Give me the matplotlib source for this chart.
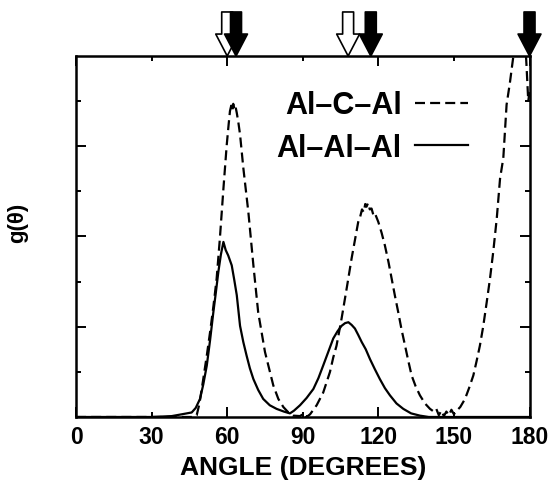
import numpy as np
import matplotlib
matplotlib.use("Agg")
import matplotlib.pyplot as plt

plt.rcParams['font.family'] = ['Liberation Sans', 'DejaVu Sans']
plt.rcParams['font.weight'] = 'bold'

# Al-C-Al bond angle distribution (dashed)
angle_alc = [0, 40, 46, 47.9, 49, 50.5, 52, 53.2, 54.5, 55.8, 57.1, 58.5, 59.8, 60.6,
             61.1, 61.6, 62.0, 62.4, 62.9, 63.3, 63.8, 64.4, 65.1, 66.4, 68.4, 70.4,
             72.3, 75.0, 78.3, 80.3, 82.3, 84.3, 86.2, 88.9, 90.5, 91.5, 92.9, 94.2,
             95.5, 96.8, 98.1, 99.4, 100.8, 102.1, 103.4, 105.4, 107.4, 109.4, 110.7,
             112.0, 112.8, 113.5, 114.2, 114.8, 115.3, 115.9, 116.6, 117.3, 118.0,
             118.6, 120.0, 121.3, 122.6, 124.0, 125.3, 126.6, 127.9, 129.2, 130.6,
             131.9, 133.2, 134.8, 136.5, 138.5, 140.5, 142, 143, 144, 145, 146, 147,
             148, 149, 150, 151.1, 152.5, 154.4, 156, 157.7, 159, 160.3, 161.6, 163.0,
             164.3, 165.6, 167, 168.3, 169.6, 170.9, 172.2, 173.5, 175, 176.5, 177.8,
             178.8, 179.5, 180]
g_alc = [0, 0, 0, 0.02, 0.15, 0.42, 0.7, 0.94, 1.22, 1.53, 1.98, 2.53, 3.01, 3.25,
         3.39, 3.45, 3.40, 3.47, 3.41, 3.44, 3.37, 3.27, 3.13, 2.76, 2.27, 1.68,
         1.16, 0.72, 0.35, 0.2, 0.11, 0.05, 0.015, 0.01, 0.04, 0.0, 0.03, 0.08,
         0.13, 0.2, 0.27, 0.38, 0.5, 0.66, 0.79, 1.09, 1.42, 1.76, 1.96,
         2.16, 2.22, 2.30, 2.27, 2.36, 2.33, 2.37, 2.30, 2.31, 2.24,
         2.26, 2.16, 2.04, 1.90, 1.72, 1.53, 1.34, 1.16, 0.97, 0.79,
         0.62, 0.46, 0.34, 0.24, 0.15, 0.09, 0.06, 0.09, 0.02, 0.07, 0.01, 0.06,
         0.02, 0.08, 0.03, 0.07, 0.11, 0.2, 0.32, 0.46, 0.62, 0.79, 1.0, 1.27,
         1.53, 1.83, 2.2, 2.64, 2.87, 3.46, 3.7, 3.98, 4.3, 4.6, 4.4,
         3.9, 3.5, 3.6]

# Al-Al-Al bond angle distribution (solid)
angle_alal = [0, 30, 38, 42, 45.9, 47.5, 49.2, 50.5, 51.9, 53.2, 54.5, 55.5, 56.5, 57.5,
              58.5, 59.4, 60.4, 61.8, 62.8, 63.8, 65.1, 66.4, 67.7, 69, 70.4, 72.3,
              74.3, 76.9, 79.6, 82.5, 84.9, 86.5, 88.9, 91.5, 94.2, 96.2, 98.1, 100.1,
              102.1, 103.8, 105.4, 106.8, 108.1, 109.4, 110.7, 112, 113.4, 115, 116.7,
              118.6, 120.6, 122.6, 124.6, 127.2, 129.9, 133, 136.5, 140, 180]
g_alal = [0, 0, 0.01, 0.03, 0.05, 0.1, 0.2, 0.36, 0.57, 0.85, 1.16, 1.38, 1.61, 1.8,
          1.94, 1.85, 1.79, 1.68, 1.52, 1.35, 1.01, 0.83, 0.68, 0.54, 0.42, 0.3,
          0.2, 0.13, 0.09, 0.06, 0.04, 0.07, 0.13, 0.21, 0.31, 0.43, 0.57, 0.72,
          0.87, 0.95, 1.01, 1.04, 1.05, 1.02, 0.98, 0.91, 0.83, 0.75, 0.64,
          0.53, 0.42, 0.32, 0.24, 0.15, 0.09, 0.04, 0.015, 0.0, 0.0]

open_arrows = [60, 108]
filled_arrows = [63.5, 117, 180]

fig = plt.figure(figsize=(5.51, 4.81), dpi=100)
ax = fig.add_axes([0.138, 0.131, 0.823, 0.7505])

lw = 1.6
ax.plot(angle_alc, g_alc, color='black', lw=lw, linestyle=(0, (4.5, 2.3)), label='Al\u2013C\u2013Al')
ax.plot(angle_alal, g_alal, color='black', lw=lw, label='Al\u2013Al\u2013Al')

ax.set_xlim(0, 180)
ax.set_ylim(0, 4)

ax.set_xticks([0, 60, 120, 180])
ax.set_xticks([30, 90, 150], labels=['30', '90', '150'], minor=True)
ax.set_yticks([1, 2, 3], labels=[])
ax.set_yticks([0.5, 1.5, 2.5, 3.5], minor=True)

ax.tick_params(which='both', direction='in', top=True, right=True, width=1.4,
               labelsize=16.5, pad=6)
ax.tick_params(which='major', length=7.2)
ax.tick_params(which='minor', length=3.6)
for lab in ax.get_xticklabels(which='both'):
    lab.set_fontweight('bold')
for s in ax.spines.values():
    s.set_linewidth(1.8)

ax.set_xlabel('ANGLE (DEGREES)', fontsize=19, fontweight='bold', labelpad=4.5)
ax.set_ylabel('g(\u03b8)', fontsize=16, fontweight='bold')
ax.yaxis.set_label_coords(-0.106, 0.54)

leg = ax.legend(loc='upper right', bbox_to_anchor=(0.864, 0.905), frameon=False,
                markerfirst=False, fontsize=22, handlelength=1.73, handletextpad=0.43,
                labelspacing=0.42, borderpad=0, borderaxespad=0)
for t in leg.get_texts():
    t.set_fontweight('bold')

# arrows above the frame
for xa in open_arrows + filled_arrows:
    fc = 'white' if xa in open_arrows else 'black'
    ax.annotate('', xy=(xa, 1.0), xycoords=('data', 'axes fraction'),
                xytext=(0, 31.7), textcoords='offset points',
                arrowprops=dict(arrowstyle='simple,head_length=15.8,head_width=16.5,tail_width=7.9',
                                mutation_scale=1, fc=fc, ec='black', lw=1.2,
                                shrinkA=0, shrinkB=0),
                annotation_clip=False)

fig.savefig('out.png', dpi=100)
